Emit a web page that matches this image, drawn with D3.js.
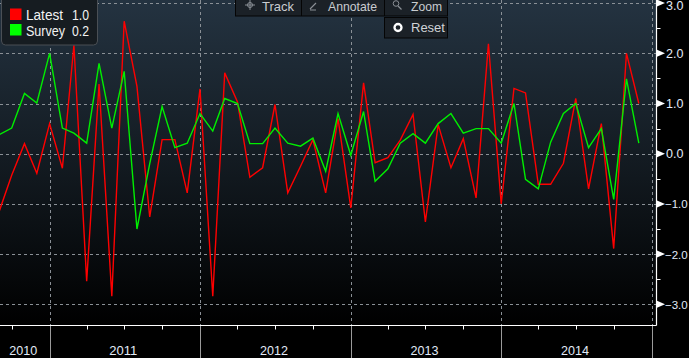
<!DOCTYPE html>
<html>
<head>
<meta charset="utf-8">
<script src="https://cdn.jsdelivr.net/npm/d3@7"></script>
<style>
html,body{margin:0;padding:0;background:#000;}
svg{display:block;}
text{font-family:"Liberation Sans",Arial,sans-serif;}
</style>
</head>
<body>
<svg id="chart" width="689" height="358"></svg>
<script>
// ---- data ----
const startMonth = "2010-09";
const latestValues = [-1.14,-0.43,0.20,-0.39,
  0.60,-0.29,2.16,-2.54,1.39,-2.84,2.64,1.34,-1.26,0.28,0.28,-0.78,
  1.29,-2.84,1.61,1.03,-0.47,-0.28,0.98,-0.78,-0.25,0.28,-0.78,0.70,
  -1.08,1.41,-0.18,-0.08,0.27,0.78,-1.36,0.58,-0.28,0.30,-0.88,2.19,
  -1.00,1.30,1.21,-0.61,-0.61,-0.19,1.10,-0.70,0.60,-1.89,2.00,1.00];
const surveyValues = [0.38,0.51,1.20,1.01,
  2.00,0.51,0.41,0.21,1.80,0.51,1.64,-1.50,-0.20,0.94,0.12,0.21,
  0.80,0.45,1.10,1.00,0.20,0.20,0.51,0.21,0.15,0.31,-0.35,0.80,
  -0.03,0.84,-0.55,-0.30,0.21,0.40,0.21,0.60,0.80,0.41,0.50,0.50,
  0.21,1.00,-0.51,-0.70,0.23,0.80,1.00,0.12,0.50,-0.91,1.49,0.21];
const seriesNames = ["Latest","Survey"];
const seriesLast = ["1.0","0.2"];
const seriesColors = ["#ff0000","#00ee00"];
const yTicks = [3,2,1,0,-1,-2,-3];
const yearLabels = ["2010","2011","2012","2013","2014"];
const toolbarItems = ["Track","Annotate","Zoom"];

// ---- layout ----
const W = 689, H = 358;
const plotR = 656, plotB = 325;
const parse = d3.timeParse("%Y-%m");
const start = parse(startMonth);
const dates = latestValues.map((_, i) => d3.timeMonth.offset(start, i));

const x = d3.scaleTime()
  .domain([new Date(2011,0,1), new Date(2015,0,1)])
  .range([49.6, 651.6]);
const y = d3.scaleLinear().domain([-3, 3]).range([304.3, 3.1]);

const svg = d3.select("#chart");
const defs = svg.append("defs");
const grad = defs.append("linearGradient").attr("id","bg")
  .attr("x1",0).attr("y1",0).attr("x2",0).attr("y2",1);
grad.append("stop").attr("offset","0%").attr("stop-color","#243341");
grad.append("stop").attr("offset","55%").attr("stop-color","#11181e");
grad.append("stop").attr("offset","100%").attr("stop-color","#000000");
defs.append("clipPath").attr("id","clip").append("rect")
  .attr("x",0).attr("y",0).attr("width",plotR).attr("height",plotB);

svg.append("rect").attr("width",W).attr("height",H).attr("fill","#000");
svg.append("rect").attr("x",0).attr("y",0).attr("width",plotR).attr("height",plotB)
  .attr("fill","url(#bg)");

// grid
const grid = svg.append("g").attr("clip-path","url(#clip)");
grid.selectAll("line.h").data(yTicks).join("line")
  .attr("x1",0).attr("x2",plotR)
  .attr("y1",d=>Math.round(y(d))+0.5).attr("y2",d=>Math.round(y(d))+0.5)
  .attr("stroke","#8a9096").attr("stroke-width",1).attr("stroke-dasharray","3,3");
const years = d3.timeYear.range(new Date(2011,0,1), new Date(2015,0,2));
grid.selectAll("line.v").data(years).join("line")
  .attr("y1",0).attr("y2",plotB)
  .attr("x1",d=>Math.round(x(d))+0.5).attr("x2",d=>Math.round(x(d))+0.5)
  .attr("stroke","#8a9096").attr("stroke-width",1).attr("stroke-dasharray","3,3");

// lines
const line = d3.line().x((d,i)=>x(dates[i])).y(d=>y(d));
const lines = svg.append("g").attr("clip-path","url(#clip)");
[latestValues, surveyValues].forEach((vals, k) => {
  lines.append("path").datum(vals).attr("d", line)
    .attr("fill","none").attr("stroke",seriesColors[k])
    .attr("stroke-width",1.4).attr("stroke-linejoin","miter");
});

// borders
svg.append("line").attr("x1",0).attr("x2",plotR+0.5).attr("y1",plotB+0.5).attr("y2",plotB+0.5)
  .attr("stroke","#fff").attr("stroke-width",1.2);
svg.append("line").attr("x1",plotR+0.5).attr("x2",plotR+0.5).attr("y1",0).attr("y2",plotB+0.5)
  .attr("stroke","#fff").attr("stroke-width",1.2);

// y axis
const yAxis = svg.append("g");
yAxis.selectAll("path.tri").data(yTicks).join("path")
  .attr("d", d => { const yy = y(d); return `M${plotR+1},${yy-3.5}L${plotR+9},${yy}L${plotR+1},${yy+3.5}Z`; })
  .attr("fill","#fff");
const minor = d3.range(-3.5, 3.01, 1);
yAxis.selectAll("line.minor").data(minor.filter(d=>y(d)>0 && y(d)<plotB)).join("line")
  .attr("x1",plotR).attr("x2",plotR+4.5)
  .attr("y1",d=>Math.round(y(d))+0.5).attr("y2",d=>Math.round(y(d))+0.5)
  .attr("stroke","#fff").attr("stroke-width",1);
yAxis.selectAll("text").data(yTicks).join("text")
  .attr("x",d=>d<0?665:666).attr("y",d=>Math.max(10, y(d)+4.5))
  .attr("fill","#e2ebf8").attr("font-size",d=>d<0?11.5:12.5)
  .text(d=>d3.format(".1f")(d));

// x axis
const quarters = d3.timeMonth.every(3).range(new Date(2010,9,1), new Date(2015,0,2));
const xAxis = svg.append("g");
xAxis.selectAll("line.q").data(quarters.filter(d=>d.getMonth()!==0)).join("line")
  .attr("x1",d=>Math.round(x(d))+0.5).attr("x2",d=>Math.round(x(d))+0.5)
  .attr("y1",plotB).attr("y2",plotB+4.5).attr("stroke","#fff").attr("stroke-width",1);
xAxis.selectAll("line.y").data(years).join("line")
  .attr("x1",d=>Math.round(x(d))+0.5).attr("x2",d=>Math.round(x(d))+0.5)
  .attr("y1",plotB+1).attr("y2",H).attr("stroke","#9a9a9a").attr("stroke-width",1);
const yearStarts = yearLabels.map(s => new Date(+s,0,1));
xAxis.selectAll("text").data(yearLabels).join("text")
  .attr("x",(d,i)=>{ const a = Math.max(0, x(yearStarts[i])); const b = Math.min(plotR, x(new Date(+d+1,0,1))); return (a+b)/2 - 1.5; })
  .attr("y",355).attr("text-anchor","middle")
  .attr("fill","#e2ebf8").attr("font-size",13)
  .attr("textLength",28).attr("lengthAdjust","spacingAndGlyphs")
  .text(d=>d);

// legend
const lg = svg.append("g");
lg.append("rect").attr("x",1.5).attr("y",-6).attr("width",96).attr("height",51)
  .attr("rx",4).attr("fill","#161c21").attr("stroke","#4a4f55");
const nameLen = [37, 39];
seriesNames.forEach((n,i)=>{
  lg.append("rect").attr("x",10).attr("y",8.5+i*15.5).attr("width",11.5).attr("height",11.5)
    .attr("fill",i===0?"#ff0000":"#00ff00");
  lg.append("text").attr("x",26).attr("y",20+i*15.5).attr("fill","#f2f2f2")
    .attr("font-size",14).attr("textLength",nameLen[i]).attr("lengthAdjust","spacingAndGlyphs").text(n);
  lg.append("text").attr("x",72).attr("y",20+i*15.5).attr("fill","#f2f2f2")
    .attr("font-size",14).attr("textLength",17).attr("lengthAdjust","spacingAndGlyphs").text(seriesLast[i]);
});

// toolbar
const tb = svg.append("g");
tb.append("rect").attr("x",235.5).attr("y",-6).attr("width",212).attr("height",22)
  .attr("fill","#1b2127").attr("stroke","#050505");
[301.5, 384.5].forEach(sx => tb.append("line").attr("x1",sx).attr("x2",sx).attr("y1",0).attr("y2",16)
  .attr("stroke","#050505"));
const tbX = [262, 328, 411];
const tbLen = [32, 49, 31];
toolbarItems.forEach((t,i)=>{
  tb.append("text").attr("x",tbX[i]).attr("y",11).attr("fill","#c9ccd0")
    .attr("font-size",13).attr("textLength",tbLen[i]).attr("lengthAdjust","spacingAndGlyphs").text(t);
});
// crosshair icon
tb.append("circle").attr("cx",250).attr("cy",5).attr("r",2.5).attr("fill","none").attr("stroke","#8a8f95");
tb.append("path").attr("d","M245,5H255M250,0V10").attr("stroke","#8a8f95");
// pencil icon
tb.append("path").attr("d","M310,9L316,3M310,10H316").attr("stroke","#8a8f95").attr("stroke-width",1.2);
// magnifier icon
tb.append("circle").attr("cx",396).attr("cy",3.5).attr("r",2.8).attr("fill","none").attr("stroke","#8a8f95");
tb.append("path").attr("d","M398,6L401.5,9.5").attr("stroke","#8a8f95").attr("stroke-width",1.3);
// reset button
tb.append("rect").attr("x",384.5).attr("y",17.5).attr("width",63).attr("height",20.5)
  .attr("fill","#1b2127").attr("stroke","#050505");
tb.append("circle").attr("cx",398).attr("cy",27.5).attr("r",3.5).attr("fill","none")
  .attr("stroke","#fff").attr("stroke-width",2.3);
tb.append("text").attr("x",411).attr("y",32).attr("fill","#d0d3d6").attr("font-size",13).text("Reset");
</script>
</body>
</html>
